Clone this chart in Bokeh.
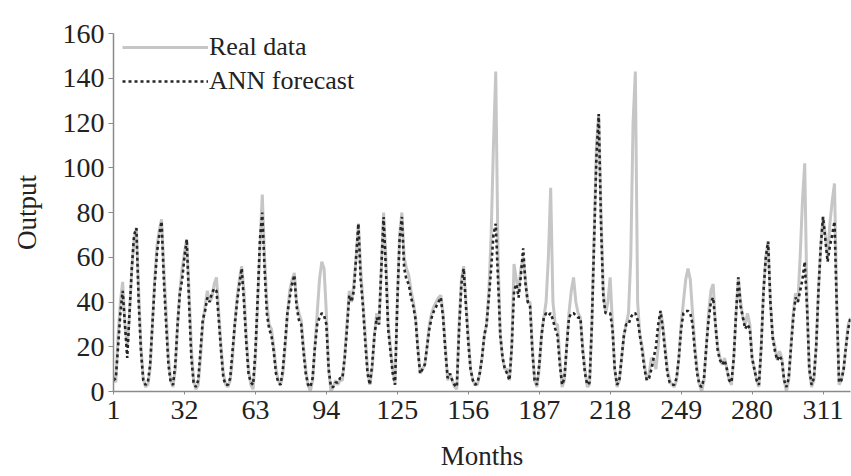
from bokeh.plotting import figure
from bokeh.models import FixedTicker, Legend, LegendItem, Range1d
from bokeh.embed import file_html
from bokeh.resources import INLINE

real_data = [
    7, 4, 25, 40, 49, 30, 20, 35, 55, 68,
    73, 45, 20, 6, 2, 3, 10, 30, 50, 65,
    72, 77, 55, 35, 15, 5, 2, 10, 30, 45,
    55, 62, 68, 45, 20, 5, 1, 3, 15, 30,
    38, 45, 40, 42, 48, 51, 35, 20, 8, 3,
    2, 5, 15, 30, 42, 50, 56, 45, 25, 10,
    3, 1, 15, 40, 65, 88, 60, 40, 30, 28,
    20, 10, 5, 3, 8, 20, 35, 45, 50, 53,
    40, 35, 32, 20, 10, 3, 0, 5, 20, 35,
    50, 58, 55, 35, 10, 0, 2, 5, 3, 5,
    5, 15, 30, 45, 40, 48, 60, 75, 55, 40,
    25, 10, 3, 10, 25, 35, 30, 55, 80, 60,
    30, 20, 10, 3, 40, 70, 80, 60, 55, 52,
    45, 40, 33, 20, 8, 10, 12, 20, 30, 35,
    38, 40, 42, 43, 35, 20, 5, 8, 5, 2,
    1, 30, 50, 56, 40, 25, 10, 5, 3, 3,
    8, 15, 25, 30, 45, 70, 110, 143, 60, 25,
    15, 10, 10, 5, 20, 57, 50, 45, 55, 60,
    50, 40, 40, 20, 5, 2, 10, 25, 33, 40,
    60, 91, 40, 30, 30, 15, 2, 5, 20, 35,
    45, 51, 40, 35, 33, 20, 10, 2, 3, 30,
    70, 110, 124, 80, 45, 35, 40, 51, 30, 10,
    2, 5, 15, 25, 30, 35, 60, 120, 143, 40,
    25, 20, 12, 5, 8, 15, 14, 10, 20, 36,
    30, 20, 10, 5, 3, 2, 5, 15, 30, 40,
    50, 55, 50, 35, 20, 10, 3, 0, 5, 20,
    35, 45, 48, 30, 20, 15, 12, 15, 10, 5,
    3, 15, 35, 51, 40, 33, 30, 35, 30, 15,
    10, 5, 2, 20, 45, 60, 67, 40, 25, 20,
    14, 18, 15, 5, 0, 5, 20, 35, 44, 40,
    60, 85, 102, 40, 10, 2, 5, 20, 45, 65,
    78, 70, 60, 75, 85, 93, 40, 3, 5, 10,
    20, 30, 33,
]

ann_forecast = [
    5, 6, 20, 35, 45, 30, 15, 35, 55, 70,
    73, 40, 18, 5, 3, 4, 12, 30, 48, 62,
    70, 76, 50, 30, 12, 4, 3, 12, 30, 44,
    50, 60, 68, 40, 15, 4, 2, 5, 18, 32,
    36, 42, 40, 44, 46, 45, 32, 18, 6, 3,
    3, 6, 18, 30, 40, 48, 55, 40, 22, 8,
    4, 3, 18, 42, 68, 80, 55, 35, 28, 25,
    18, 8, 4, 3, 10, 22, 35, 42, 48, 52,
    38, 32, 30, 18, 8, 3, 2, 6, 20, 30,
    33, 35, 34, 30, 10, 2, 2, 4, 4, 6,
    6, 15, 28, 43, 40, 45, 60, 75, 50, 38,
    22, 8, 3, 12, 25, 33, 30, 55, 78, 55,
    28, 18, 8, 3, 40, 68, 78, 55, 50, 48,
    42, 38, 32, 18, 8, 10, 12, 20, 28, 33,
    36, 38, 40, 42, 33, 18, 6, 8, 5, 3,
    2, 28, 48, 55, 38, 22, 10, 5, 3, 4,
    8, 15, 25, 30, 42, 55, 70, 75, 50, 25,
    15, 10, 8, 5, 20, 45, 48, 42, 52, 64,
    48, 40, 38, 18, 5, 3, 12, 25, 33, 35,
    34, 35, 32, 28, 25, 12, 3, 6, 20, 33,
    35, 35, 34, 33, 33, 18, 8, 3, 4, 30,
    68, 105, 124, 75, 42, 35, 35, 35, 28, 10,
    3, 5, 15, 25, 30, 30, 33, 35, 35, 32,
    25, 18, 10, 5, 6, 10, 15, 20, 30, 36,
    28, 18, 8, 4, 3, 3, 6, 15, 28, 35,
    36, 36, 35, 30, 18, 8, 3, 2, 6, 20,
    32, 40, 42, 30, 18, 14, 12, 14, 10, 5,
    4, 15, 35, 51, 38, 33, 28, 30, 28, 15,
    10, 5, 3, 20, 45, 60, 67, 40, 24, 18,
    14, 16, 14, 5, 2, 6, 20, 33, 42, 40,
    45, 50, 58, 38, 10, 3, 6, 20, 45, 65,
    78, 68, 58, 65, 70, 76, 38, 4, 5, 10,
    20, 28, 33,
]

months = list(range(1, len(real_data) + 1))
x_ticks = [1, 32, 63, 94, 125, 156, 187, 218, 249, 280, 311]
y_ticks = [0, 20, 40, 60, 80, 100, 120, 140, 160]

FONT = "Liberation Serif"
REAL_COLOR = "#c6c6c6"
ANN_COLOR = "#262626"

p = figure(width=851, height=476, output_backend="svg", toolbar_location=None,
           x_range=Range1d(1, 323), y_range=Range1d(0, 160),
           min_border_left=113, min_border_right=1, min_border_top=33,
           min_border_bottom=85)
p.outline_line_color = None
p.xgrid.visible = False
p.ygrid.visible = False
p.background_fill_color = "white"
p.border_fill_color = "white"

r_real = p.line(months, real_data, line_color=REAL_COLOR, line_width=3)
r_ann = p.line(months, ann_forecast, line_color=ANN_COLOR, line_width=2.6,
               line_dash="3 3")

for ax in (p.xaxis[0], p.yaxis[0]):
    ax.axis_line_color = "#8a8a8a"
    ax.axis_line_width = 1.5
    ax.major_tick_line_color = "#8a8a8a"
    ax.minor_tick_line_color = None
    ax.major_label_text_font = FONT
    ax.major_label_text_font_size = "28px"
    ax.major_label_text_color = "#222222"
    ax.axis_label_text_font = FONT
    ax.axis_label_text_font_size = "27px"
    ax.axis_label_text_font_style = "normal"
    ax.axis_label_text_color = "#222222"

p.xaxis.ticker = FixedTicker(ticks=x_ticks)
p.yaxis.ticker = FixedTicker(ticks=y_ticks)
p.xaxis.major_tick_in = 0
p.xaxis.major_tick_out = 3
p.yaxis.major_tick_in = 0
p.yaxis.major_tick_out = 5
p.xaxis.major_label_standoff = 6
p.yaxis.major_label_standoff = 4
p.xaxis.axis_label = "Months"
p.yaxis.axis_label = "Output"
p.xaxis.axis_label_standoff = 19
p.yaxis.axis_label_standoff = 18

legend = Legend(items=[LegendItem(label="Real data", renderers=[r_real]),
                       LegendItem(label="ANN forecast", renderers=[r_ann])],
                location="top_left")
legend.background_fill_alpha = 0
legend.border_line_color = None
legend.label_text_font = FONT
legend.label_text_font_size = "26px"
legend.label_text_color = "#222222"
legend.glyph_width = 86
legend.glyph_height = 32
legend.label_height = 32
legend.spacing = 2
legend.label_standoff = 1
legend.padding = 0
legend.margin = 0
legend.location = (9, 294)
p.add_layout(legend)

open("out.html", "w").write(file_html(p, INLINE))
